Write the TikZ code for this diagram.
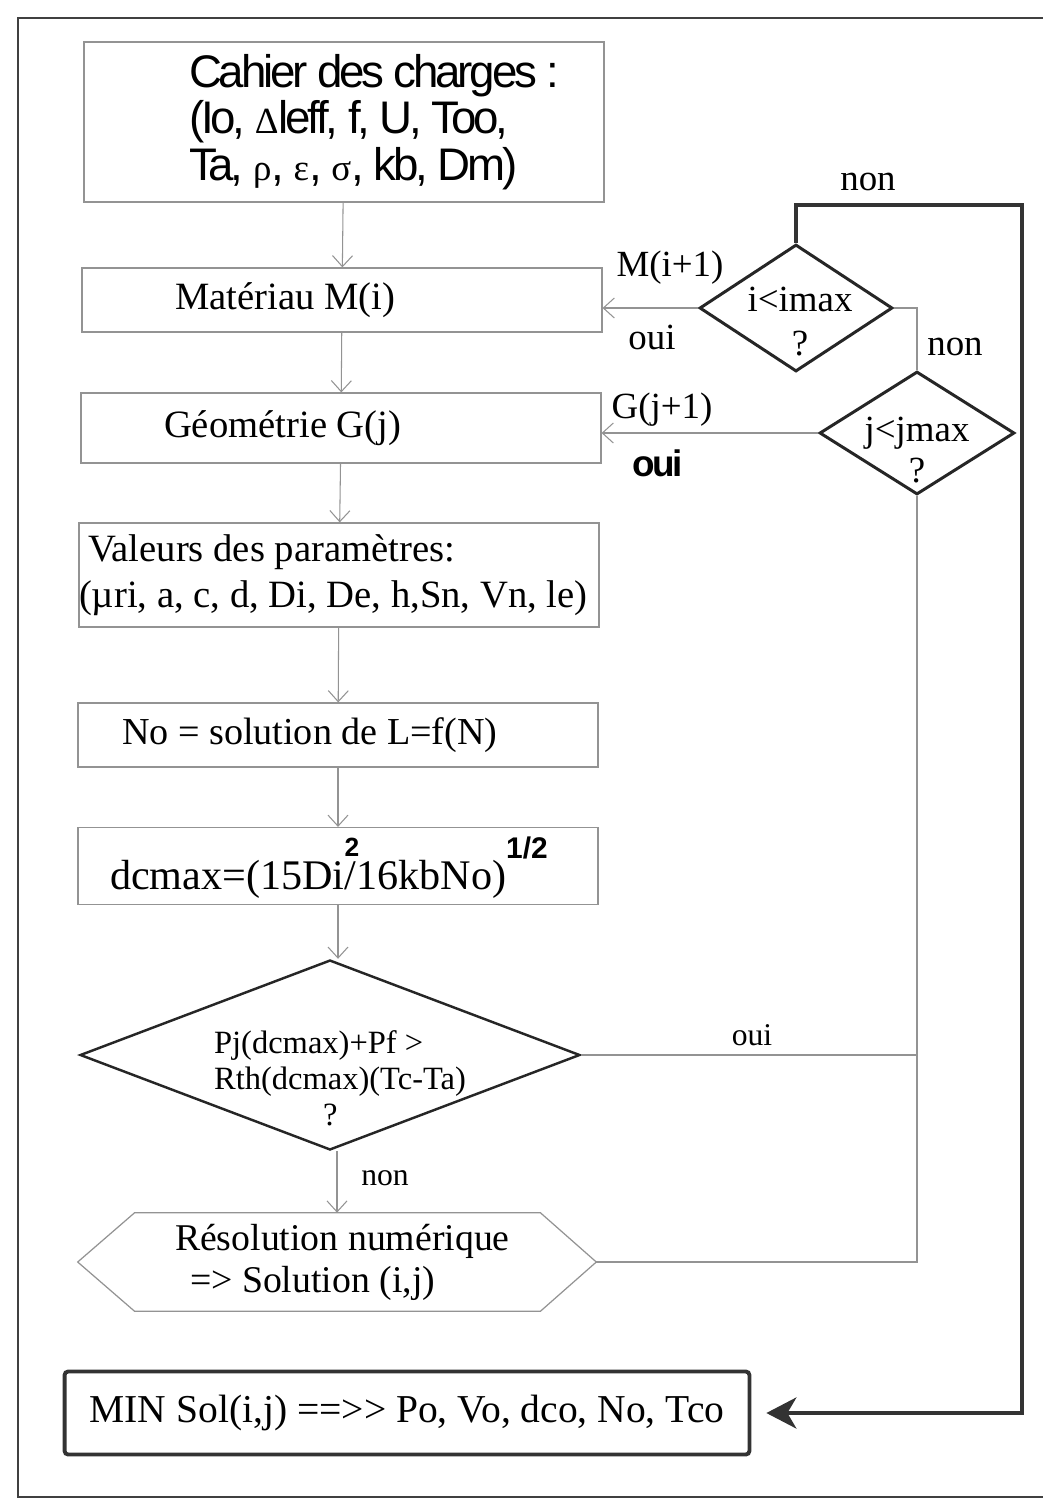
\documentclass[tikz,border=0pt]{standalone}
\usepackage{fontspec}
\setmainfont{Liberation Serif}
\newfontfamily\arialserre[LetterSpace=-7]{Liberation Sans}
\newfontfamily\arialgras{Liberation Sans}
\newcommand{\grecque}{\rmfamily\fontsize{21}{21}\selectfont}
\newcommand{\exposant}{\arialgras\bfseries\fontsize{15}{15}\selectfont}
\usetikzlibrary{shapes.geometric, arrows.meta}

\begin{document}
\begin{tikzpicture}[x=0.02cm, y=-0.02cm]
    % Définition des styles
    \tikzset{bloc/.style={draw=gray!85, line width=0.7pt, text width=10.4cm, inner xsep=0pt, align=flush left, font=\fontsize{22}{26.5}\selectfont}}
    \tikzstyle{test}=[draw=black!85, diamond, line width=1.7pt, inner sep=0pt]
    \tikzstyle{fleche}=[-{Straight Barb[length=0.22cm, width=0.4cm]}, gray!85, line width=0.6pt]
    \tikzstyle{lien}=[gray!85, line width=0.6pt]
    \tikzstyle{retour}=[-{Stealth[length=0.6cm, width=0.62cm, inset=0.18cm]}, black!80, line width=2.4pt, shorten >=0.3cm]
    \tikzstyle{etiquette}=[align=center, font=\fontsize{21}{25}\selectfont]

    \useasboundingbox (0,0) rectangle (1043,1502);
    % Cadre
    \draw[black!75, line width=1pt] (1043,18) -- (18,18) -- (18,1497) -- (1043,1497);

    % Blocs de calcul
    \node[bloc, minimum height=3.2cm, font=\arialserre\fontsize{26}{26.5}\selectfont] (bloc_cahier) at (344,122) {\hspace*{2.1cm}Cahier des charges :\\\hspace*{2.1cm}(Io, {\grecque Δ}leff, f, U, Too,\\\hspace*{2.1cm}Ta, {\grecque ρ}, {\grecque ε}, {\grecque σ}, kb, Dm)};
    \node[bloc, minimum height=1.28cm] (bloc_materiau) at (342,300) {\hspace*{1.86cm}Matériau M(i)};
    \node[bloc, minimum height=1.4cm] (bloc_geometrie) at (341,428) {\hspace*{1.66cm}Géométrie G(j)};
    \node[bloc, minimum height=2.08cm] (bloc_valeurs) at (339,575) {\hspace*{0.18cm}Valeurs des paramètres:\\\mbox{(µri, a, c, d, Di, De, h,Sn, Vn, le)}};
    \node[bloc, minimum height=1.28cm, font=\fontsize{21.7}{26}\selectfont] (bloc_no) at (338,735) {\hspace*{0.88cm}No = solution de L=f(N)};
    \node[bloc, minimum height=1.54cm, inner ysep=0pt, text height=1.0cm, text depth=0.08cm, font=\fontsize{24}{28}\selectfont] (bloc_dcmax) at (338,866) {\hspace*{0.64cm}dcmax=(15Di\rlap{\raisebox{0.66cm}{\exposant 2}}/16kbNo)\raisebox{0.62cm}{\exposant\fontsize{17}{17}\selectfont 1/2}};

    % Tests
    \node[test, line width=1.4pt, minimum width=10cm, minimum height=3.8cm] (test_puissance) at (330,1055) {};
    \node[align=left, font=\fontsize{18.5}{20.5}\selectfont] (txt_puissance) at (340,1078) {Pj(dcmax)+Pf >\\Rth(dcmax)(Tc-Ta)\\\hspace*{2.18cm}?};
    \node[test, minimum width=3.86cm, minimum height=2.54cm] (test_imax) at (796,308) {};
    \node[etiquette] (txt_imax) at (800,322) {i<imax\\?};
    \node[test, minimum width=3.9cm, minimum height=2.46cm] (test_jmax) at (917,433) {};
    \node[etiquette, font=\fontsize{21}{23}\selectfont] (txt_jmax) at (917,450) {j<jmax\\?};

    % Résolution et résultat final
    \node[text width=10.36cm, inner xsep=0pt, align=flush left, minimum height=1.96cm, font=\fontsize{21.5}{24}\selectfont] (bloc_resolution) at (337,1262) {\hspace*{1.94cm}Résolution numérique\\\hspace*{2.24cm}=> Solution (i,j)};
    \draw[lien, line width=0.7pt] (bloc_resolution.west) -- ([xshift=1.14cm]bloc_resolution.north west) -- ([xshift=-1.12cm]bloc_resolution.north east) -- (bloc_resolution.east) -- ([xshift=-1.12cm]bloc_resolution.south east) -- ([xshift=1.14cm]bloc_resolution.south west) -- cycle;
    \node[draw=black!80, line width=2.2pt, rounded corners=2pt, minimum width=13.7cm, minimum height=1.66cm, font=\fontsize{22.5}{26}\selectfont] (bloc_min) at (407,1413) {MIN Sol(i,j) ==>{}> Po, Vo, dco, No, Tco};

    % Enchaînement vertical
    \draw[fleche] (bloc_cahier) -- (bloc_materiau);
    \draw[fleche] (bloc_materiau) -- (bloc_geometrie);
    \draw[fleche] (bloc_geometrie) -- (bloc_valeurs);
    \draw[fleche] (bloc_valeurs) -- (bloc_no);
    \draw[fleche] (bloc_no) -- (bloc_dcmax);
    \draw[fleche] (bloc_dcmax.south) -- (bloc_dcmax.south |- test_puissance.north);
    \draw[fleche] (bloc_resolution.north |- test_puissance.south) -- (bloc_resolution.north);

    % Boucles sur i et j
    \draw[fleche] (test_imax.west) -- (test_imax.west -| bloc_materiau.east);
    \draw[fleche] (test_jmax.west) -- (test_jmax.west -| bloc_geometrie.east);
    \draw[lien] (test_imax.east) -| (test_jmax.north);
    \draw[lien] (test_puissance.east) -- (test_puissance.east -| test_jmax.south);
    \draw[lien] (bloc_resolution.east) -- (bloc_resolution.east -| test_jmax.south) -- (test_jmax.south);
    \coordinate (coin_haut) at (1022,205);
    \draw[retour] (test_imax.north) |- (coin_haut) |- (bloc_min.east);

    % Etiquettes
    \node[etiquette] (lbl_non_imax) at (868,182) {non};
    \node[etiquette] (lbl_mi) at (670,268) {M(i+1)};
    \node[etiquette] (lbl_oui_mi) at (652,337) {oui};
    \node[etiquette] (lbl_non_jmax) at (955,347) {non};
    \node[etiquette] (lbl_gj) at (662,410) {G(j+1)};
    \node[font=\arialserre\bfseries\fontsize{21}{21}\selectfont] (lbl_oui_gj) at (658,463) {oui};
    \node[etiquette, font=\fontsize{18}{20}\selectfont] (lbl_oui_p) at (752,1035) {oui};
    \node[etiquette, font=\fontsize{18}{20}\selectfont] (lbl_non_p) at (385,1178) {non};
\end{tikzpicture}
\end{document}
